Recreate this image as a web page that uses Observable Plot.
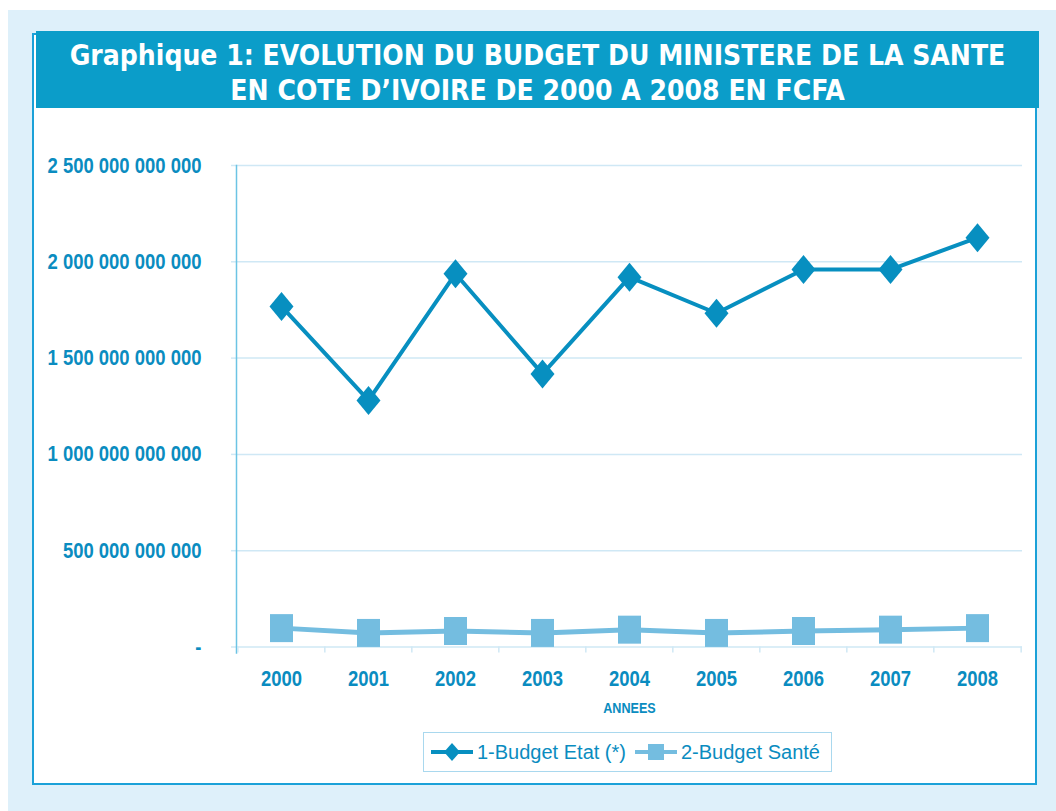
<!DOCTYPE html>
<html>
<head>
<meta charset="utf-8">
<script src="https://cdn.jsdelivr.net/npm/d3@7"></script>
<script src="https://cdn.jsdelivr.net/npm/@observablehq/plot@0.6"></script>
<style>
  html, body { margin: 0; padding: 0; background: #ffffff; }
  #page { position: relative; width: 1056px; height: 811px; overflow: hidden; }
  #outer { position: absolute; left: 8px; top: 10px; width: 1048px; height: 801px; background: #def0fa; }
  #panel { position: absolute; left: 32px; top: 33px; width: 1001px; height: 748px; background: #fff; border: 2px solid #1ba1d8; }
  #titlebar { position: absolute; left: 36px; top: 31px; width: 1003px; height: 77px; background: #0b9dc9;
    color: #fff; font-family: "DejaVu Sans Condensed", "DejaVu Sans", sans-serif; font-stretch: condensed;
    font-weight: bold; font-size: 28px; line-height: 35px; text-align: center; padding-top: 7px; box-sizing: border-box; z-index: 3; }
  #chart { position: absolute; left: 0; top: 0; z-index: 2; }
  #legend { position: absolute; left: 423px; top: 732px; width: 409px; height: 40px; border: 1px solid #a9d8ee;
    background: #fff; z-index: 3; display: flex; align-items: center; font-family: "Liberation Sans", Arial, sans-serif;
    font-size: 20px; color: #0a8cc0; box-sizing: border-box; padding-left: 6px; white-space: nowrap; }
  #legend .item { display: flex; align-items: center; margin-right: 8px; flex-shrink: 0; }
  #legend svg { margin-right: 3px; flex-shrink: 0; }
</style>
</head>
<body>
<div id="page">
  <div id="outer"></div>
  <div id="panel"></div>
  <div id="titlebar">Graphique 1: EVOLUTION DU BUDGET DU MINISTERE DE LA SANTE<br>EN COTE D’IVOIRE DE 2000 A 2008 EN FCFA</div>
  <div id="chart"></div>
  <div id="legend"></div>
</div>
<script>
const years = ["2000","2001","2002","2003","2004","2005","2006","2007","2008"];
const budgetEtat = [1768e9, 1280e9, 1938e9, 1418e9, 1920e9, 1733e9, 1960e9, 1960e9, 2125e9];
const budgetSante = [98e9, 73e9, 83e9, 73e9, 90e9, 73e9, 83e9, 90e9, 98e9];
const yTicks = [0, 500e9, 1000e9, 1500e9, 2000e9, 2500e9];
const seriesNames = ["1-Budget Etat (*)", "2-Budget Santé"];

const colEtat = "#078fc0";
const colSante = "#74bde0";
const textCol = "#0a8cc0";
const gridCol = "#cfe8f5";

const etat = years.map((y, i) => ({year: y, value: budgetEtat[i]}));
const sante = years.map((y, i) => ({year: y, value: budgetSante[i]}));

const diamondTall = { draw(ctx) { const w = 12, h = 14.5; ctx.moveTo(0, -h); ctx.lineTo(w, 0); ctx.lineTo(0, h); ctx.lineTo(-w, 0); ctx.closePath(); } };
const rectTall = { draw(ctx) { const w = 11.5, h = 14; ctx.moveTo(-w, -h); ctx.lineTo(w, -h); ctx.lineTo(w, h); ctx.lineTo(-w, h); ctx.closePath(); } };

const W = 1056, H = 811, mL = 236, mR = 34, mT = 165, mB = 164.5;
const step = (W - mL - mR) / years.length;
const fmt = d => d === 0 ? "-" : d3.format(",.0f")(d).replace(/,/g, " ");

const chart = Plot.plot({
  width: W, height: H,
  marginLeft: mL, marginRight: mR, marginTop: mT, marginBottom: mB,
  style: {background: "transparent", fontFamily: "'Liberation Sans', Arial, sans-serif"},
  x: {type: "point", domain: years, padding: 0.5},
  y: {domain: [0, 2.5e12]},
  marks: [
    Plot.gridY(yTicks, {stroke: gridCol, strokeOpacity: 1, strokeWidth: 1.5}),
    Plot.axisY(yTicks, {tickSize: 5, tickPadding: 30, tickFormat: fmt, fontSize: 22, fontWeight: "bold",
      fill: textCol, stroke: gridCol, strokeWidth: 1.5, label: null}),
    Plot.frame({anchor: "left", stroke: "#6cc4e4", strokeWidth: 1.5, insetBottom: -6}),
    Plot.ruleX(years, {x: d => d, y1: 0, y2: 0, dx: -step / 2, insetBottom: -6, stroke: gridCol, strokeWidth: 1.5}),
    Plot.ruleX([years[years.length - 1]], {x: d => d, y1: 0, y2: 0, dx: step / 2, insetBottom: -6, stroke: gridCol, strokeWidth: 1.5}),
    Plot.axisX({tickSize: 0, tickPadding: 23, fontSize: 22, fontWeight: "bold", fill: textCol, label: null}),
    Plot.text(["ANNEES"], {frameAnchor: "bottom", dy: 65.5, fontSize: 15, fontWeight: "bold", fill: textCol}),
    Plot.line(sante, {x: "year", y: "value", stroke: colSante, strokeWidth: 5}),
    Plot.dot(sante, {x: "year", y: "value", symbol: rectTall, fill: colSante, stroke: null}),
    Plot.line(etat, {x: "year", y: "value", stroke: colEtat, strokeWidth: 4}),
    Plot.dot(etat, {x: "year", y: "value", symbol: diamondTall, fill: colEtat, stroke: null})
  ]
});

// condense axis text horizontally (narrow bold face in the original)
d3.select(chart).selectAll("g[aria-label='y-axis tick label'] text, g[aria-label='x-axis tick label'] text, g[aria-label='text'] text")
  .each(function() {
    const t = this.getAttribute("transform") || "";
    this.setAttribute("transform", `${t} scale(0.84,1)`);
  });

document.getElementById("chart").appendChild(chart);

const legend = document.getElementById("legend");
const swatches = [
  `<svg width="44" height="30"><line x1="1" y1="15" x2="43" y2="15" stroke="${colEtat}" stroke-width="4"/><path d="M22,6 L30,15 L22,24 L14,15Z" fill="${colEtat}"/></svg>`,
  `<svg width="44" height="30"><line x1="1" y1="15" x2="43" y2="15" stroke="${colSante}" stroke-width="4"/><rect x="14" y="7" width="16" height="16" fill="${colSante}"/></svg>`
];
seriesNames.forEach((name, i) => {
  const item = document.createElement("div");
  item.className = "item";
  item.innerHTML = swatches[i] + `<span>${name}</span>`;
  legend.appendChild(item);
});
</script>
</body>
</html>
